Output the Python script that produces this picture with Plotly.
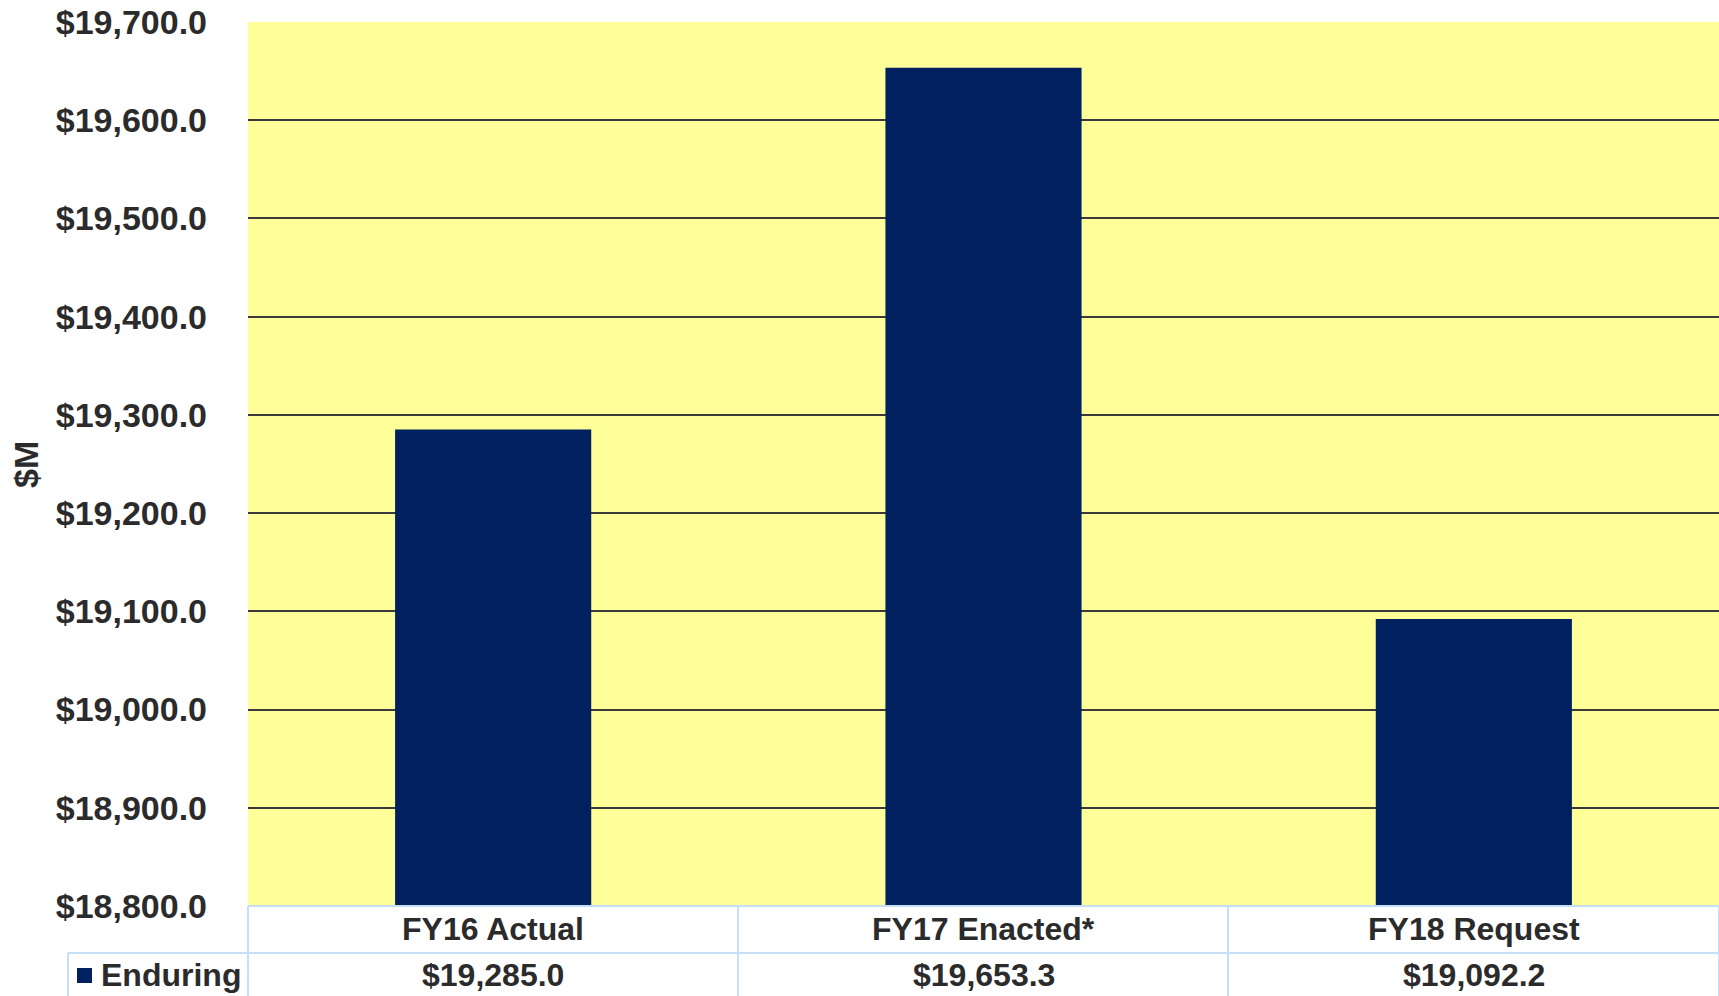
import plotly.graph_objects as go

categories = ["FY16 Actual", "FY17 Enacted*", "FY18 Request"]
enduring = [19285.0, 19653.3, 19092.2]
series_name = "Enduring"
y_title = "$M"

W, H = 1719, 996
L, R, T, B = 248, 0, 22, 90
PW, PH = W - L - R, H - T - B

def px_x(x):
    return (x - L) / PW

def px_y(y):
    return (H - B - y) / PH

NAVY = "#002060"
TXT = "#2b2b2b"
BORDER = "#c5dff7"
FONT = "Liberation Sans, Arial, sans-serif"

fig = go.Figure()
fig.add_trace(go.Bar(x=categories, y=enduring, name=series_name,
                     marker=dict(color=NAVY, line=dict(width=0)), width=0.4,
                     showlegend=False))

fig.update_layout(
    width=W, height=H,
    margin=dict(l=L, r=R, t=T, b=B, autoexpand=False),
    paper_bgcolor="white", plot_bgcolor="#FFFF99",
    font=dict(family=FONT, color=TXT),
    bargap=0.6,
)
fig.update_xaxes(showticklabels=False, showgrid=False, zeroline=False, showline=False)
fig.update_yaxes(range=[18800, 19700], dtick=100, tickformat="$,.1f",
                 showgrid=True, gridcolor="#3a3a3a", gridwidth=1.6,
                 zeroline=False, showline=False,
                 tickfont=dict(family=FONT, size=34, color=TXT, weight="bold"),
                 ticklabelstandoff=40, automargin=False)

# axis title
fig.add_annotation(text="<b>" + y_title + "</b>", xref="paper", yref="paper",
                   x=px_x(26), y=px_y(465), textangle=-90, showarrow=False,
                   font=dict(family=FONT, size=34, color=TXT),
                   xanchor="center", yanchor="middle")

# data table lines
col_edges = [248, 738, 1228, 1719]
row_top, row_mid, row_bot = 906, 953, 996
shapes = []
def hline(y, x0, x1):
    shapes.append(dict(type="line", xref="paper", yref="paper",
                       x0=px_x(x0), x1=px_x(x1), y0=px_y(y), y1=px_y(y),
                       line=dict(color=BORDER, width=2)))
def vline(x, y0, y1):
    shapes.append(dict(type="line", xref="paper", yref="paper",
                       x0=px_x(x), x1=px_x(x), y0=px_y(y0), y1=px_y(y1),
                       line=dict(color=BORDER, width=2)))
hline(row_top, 248, 1719)
hline(row_mid, 68, 1719)
for cx in col_edges:
    vline(cx, row_top, row_bot)
vline(68, row_mid, row_bot)
# legend key square
shapes.append(dict(type="rect", xref="paper", yref="paper",
                   x0=px_x(77), x1=px_x(92), y0=px_y(983), y1=px_y(968),
                   fillcolor=NAVY, line=dict(width=0)))
fig.update_layout(shapes=shapes)

for c, v in zip(categories, enduring):
    fig.add_annotation(text="<b>" + c + "</b>", xref="x", yref="paper",
                       x=c, y=px_y((row_top + row_mid) / 2), showarrow=False,
                       font=dict(family=FONT, size=32, color=TXT),
                       xanchor="center", yanchor="middle")
    fig.add_annotation(text="<b>" + f"${v:,.1f}" + "</b>", xref="x", yref="paper",
                       x=c, y=px_y((row_mid + row_bot) / 2), showarrow=False,
                       font=dict(family=FONT, size=32, color=TXT),
                       xanchor="center", yanchor="middle")

fig.add_annotation(text="<b>" + series_name + "</b>", xref="paper", yref="paper",
                   x=px_x(99), y=px_y((row_mid + row_bot) / 2), showarrow=False,
                   font=dict(family=FONT, size=32, color=TXT),
                   xanchor="left", yanchor="middle")

fig.write_html("out.html")
